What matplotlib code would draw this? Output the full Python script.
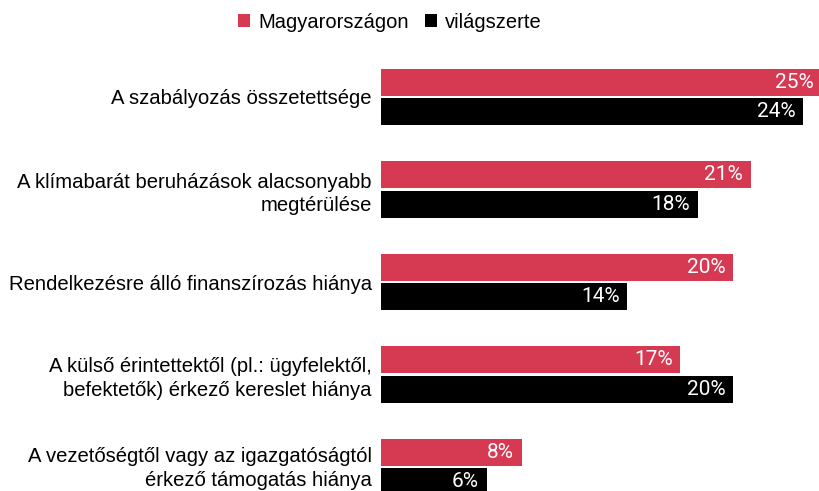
import matplotlib
matplotlib.use('Agg')
import matplotlib.pyplot as plt
import matplotlib.transforms as mtransforms
import numpy as np

# data
categories = [
    'A szabályozás összetettsége',
    'A klímabarát beruházások alacsonyabb\nmegtérülése',
    'Rendelkezésre álló finanszírozás hiánya',
    'A külső érintettektől (pl.: ügyfelektől,\nbefektetők) érkező kereslet hiánya',
    'A vezetőségtől vagy az igazgatóságtól\nérkező támogatás hiánya',
]
hungary = [25, 21, 20, 17, 8]
world = [24, 18, 14, 20, 6]
series_names = ['Magyarországon', 'világszerte']
colors = ['#d63a53', '#000000']

W, H = 819, 491
fig = plt.figure(figsize=(W / 100, H / 100), dpi=100)
ax = fig.add_axes([381 / W, 0, 1 - 381 / W, 1])

pos = np.arange(len(categories))
off = 0.157
h = 0.292
ax.barh(pos - off, hungary, height=h, color=colors[0], label=series_names[0])
ax.barh(pos + off, world, height=h, color=colors[1], label=series_names[1])

ax.set_xlim(0, (W - 381) / 17.6)
ax.set_ylim((H - 97) / 92.5, -97 / 92.5)

for vals, dy in [(hungary, -off), (world, off)]:
    for i, v in enumerate(vals):
        ax.annotate(f'{v}%', (v, i + dy), xytext=(-5.5, 0), textcoords='offset points',
                    ha='right', va='center', color='white', fontsize=15,
                    family='Roboto', annotation_clip=False)

ax.set_yticks(pos)
ax.set_yticklabels(categories, family='Liberation Sans', fontsize=14.6,
                   linespacing=1.3)
ax.tick_params(axis='y', length=0, pad=6.5)
ax.set_xticks([])
for s in ax.spines.values():
    s.set_visible(False)

# the bottom label sits a little higher so it is not cut off
last = ax.get_yticklabels()[-1]
last.set_transform(last.get_transform() +
                   mtransforms.ScaledTranslation(0, 3 / 100, fig.dpi_scale_trans))

fig.legend(loc='center', bbox_to_anchor=(390 / W, 1 - 22 / H), ncol=2,
           frameon=False, handlelength=0.6, handleheight=0.6,
           handletextpad=0.4, columnspacing=0.8,
           prop={'family': 'Liberation Sans', 'size': 14.5})

fig.savefig('out.png', dpi=100)
